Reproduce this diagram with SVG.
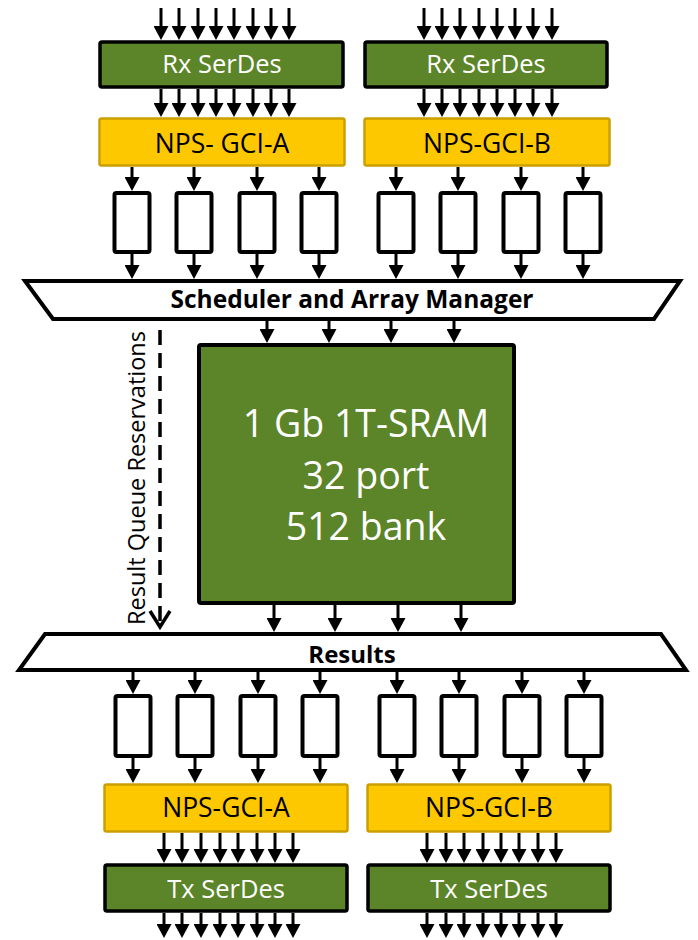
<svg xmlns="http://www.w3.org/2000/svg" width="698" height="940" viewBox="0 0 698 940">
<style>
.serdes{fill:#5b8528;stroke:#000;stroke-width:3.5}
.nps{fill:#fdc800;stroke:#c9a000;stroke-width:2.5}
.q{fill:#fff;stroke:#000;stroke-width:4}
.trap{fill:#fff;stroke:#000;stroke-width:4;stroke-linejoin:miter}
.sram{fill:#5b8528;stroke:#000;stroke-width:4}
.wt{font-family:"Open Sans","Noto Sans",sans-serif;fill:#fff;text-anchor:middle}
.bt{font-family:"Open Sans","Noto Sans",sans-serif;fill:#000;text-anchor:middle}
.bold{font-family:"Open Sans","Noto Sans",sans-serif;font-weight:bold;fill:#000;text-anchor:middle}
.a line{stroke:#000;stroke-width:3;marker-end:url(#ah)}
.dash{stroke:#000;stroke-width:3.5;fill:none;stroke-dasharray:15 8}
</style>
<defs>
<marker id="ah" viewBox="0 0 14 15" refX="7" refY="7.5" markerWidth="14" markerHeight="15" markerUnits="userSpaceOnUse" orient="auto">
<path d="M0,0 L14,7.5 L0,15 z" fill="#000"/>
</marker>
</defs>

<g id="connectors" class="a">
<line x1="161" y1="8" x2="161" y2="33"/><line x1="179" y1="8" x2="179" y2="33"/><line x1="198" y1="8" x2="198" y2="33"/><line x1="216" y1="8" x2="216" y2="33"/><line x1="234" y1="8" x2="234" y2="33"/><line x1="253" y1="8" x2="253" y2="33"/><line x1="271" y1="8" x2="271" y2="33"/><line x1="289" y1="8" x2="289" y2="33"/>
<line x1="424" y1="8" x2="424" y2="33"/><line x1="442" y1="8" x2="442" y2="33"/><line x1="460" y1="8" x2="460" y2="33"/><line x1="479" y1="8" x2="479" y2="33"/><line x1="497" y1="8" x2="497" y2="33"/><line x1="515" y1="8" x2="515" y2="33"/><line x1="533" y1="8" x2="533" y2="33"/><line x1="552" y1="8" x2="552" y2="33"/>

<line x1="161" y1="89" x2="161" y2="110"/><line x1="179" y1="89" x2="179" y2="110"/><line x1="198" y1="89" x2="198" y2="110"/><line x1="216" y1="89" x2="216" y2="110"/><line x1="234" y1="89" x2="234" y2="110"/><line x1="253" y1="89" x2="253" y2="110"/><line x1="271" y1="89" x2="271" y2="110"/><line x1="289" y1="89" x2="289" y2="110"/>
<line x1="424" y1="89" x2="424" y2="110"/><line x1="442" y1="89" x2="442" y2="110"/><line x1="460" y1="89" x2="460" y2="110"/><line x1="479" y1="89" x2="479" y2="110"/><line x1="497" y1="89" x2="497" y2="110"/><line x1="515" y1="89" x2="515" y2="110"/><line x1="533" y1="89" x2="533" y2="110"/><line x1="552" y1="89" x2="552" y2="110"/>

<line x1="132" y1="167" x2="132" y2="184"/><line x1="194" y1="167" x2="194" y2="184"/><line x1="257" y1="167" x2="257" y2="184"/><line x1="319" y1="167" x2="319" y2="184"/>
<line x1="396" y1="167" x2="396" y2="184"/><line x1="458" y1="167" x2="458" y2="184"/><line x1="521" y1="167" x2="521" y2="184"/><line x1="583" y1="167" x2="583" y2="184"/>

<line x1="132" y1="254" x2="132" y2="272"/><line x1="194" y1="254" x2="194" y2="272"/><line x1="257" y1="254" x2="257" y2="272"/><line x1="319" y1="254" x2="319" y2="272"/>
<line x1="396" y1="254" x2="396" y2="272"/><line x1="458" y1="254" x2="458" y2="272"/><line x1="521" y1="254" x2="521" y2="272"/><line x1="583" y1="254" x2="583" y2="272"/>

<line x1="267" y1="321" x2="267" y2="336"/><line x1="329" y1="321" x2="329" y2="336"/><line x1="391" y1="321" x2="391" y2="336"/><line x1="454" y1="321" x2="454" y2="336"/>

<line x1="274" y1="605" x2="274" y2="625"/><line x1="335" y1="605" x2="335" y2="625"/><line x1="398" y1="605" x2="398" y2="625"/><line x1="461" y1="605" x2="461" y2="625"/>

<line x1="133" y1="672" x2="133" y2="687"/><line x1="195" y1="672" x2="195" y2="687"/><line x1="258" y1="672" x2="258" y2="687"/><line x1="320" y1="672" x2="320" y2="687"/>
<line x1="397" y1="672" x2="397" y2="687"/><line x1="459" y1="672" x2="459" y2="687"/><line x1="522" y1="672" x2="522" y2="687"/><line x1="584" y1="672" x2="584" y2="687"/>

<line x1="133" y1="758" x2="133" y2="776"/><line x1="195" y1="758" x2="195" y2="776"/><line x1="258" y1="758" x2="258" y2="776"/><line x1="320" y1="758" x2="320" y2="776"/>
<line x1="397" y1="758" x2="397" y2="776"/><line x1="459" y1="758" x2="459" y2="776"/><line x1="522" y1="758" x2="522" y2="776"/><line x1="584" y1="758" x2="584" y2="776"/>

<line x1="164" y1="833" x2="164" y2="856"/><line x1="182" y1="833" x2="182" y2="856"/><line x1="201" y1="833" x2="201" y2="856"/><line x1="220" y1="833" x2="220" y2="856"/><line x1="238" y1="833" x2="238" y2="856"/><line x1="257" y1="833" x2="257" y2="856"/><line x1="275" y1="833" x2="275" y2="856"/><line x1="293" y1="833" x2="293" y2="856"/>
<line x1="427" y1="833" x2="427" y2="856"/><line x1="446" y1="833" x2="446" y2="856"/><line x1="464" y1="833" x2="464" y2="856"/><line x1="483" y1="833" x2="483" y2="856"/><line x1="501" y1="833" x2="501" y2="856"/><line x1="519" y1="833" x2="519" y2="856"/><line x1="538" y1="833" x2="538" y2="856"/><line x1="556" y1="833" x2="556" y2="856"/>

<line x1="164" y1="913" x2="164" y2="931"/><line x1="182" y1="913" x2="182" y2="931"/><line x1="201" y1="913" x2="201" y2="931"/><line x1="220" y1="913" x2="220" y2="931"/><line x1="238" y1="913" x2="238" y2="931"/><line x1="257" y1="913" x2="257" y2="931"/><line x1="275" y1="913" x2="275" y2="931"/><line x1="293" y1="913" x2="293" y2="931"/>
<line x1="427" y1="913" x2="427" y2="931"/><line x1="446" y1="913" x2="446" y2="931"/><line x1="464" y1="913" x2="464" y2="931"/><line x1="483" y1="913" x2="483" y2="931"/><line x1="501" y1="913" x2="501" y2="931"/><line x1="519" y1="913" x2="519" y2="931"/><line x1="538" y1="913" x2="538" y2="931"/><line x1="556" y1="913" x2="556" y2="931"/>

<path class="dash" d="M160,330V626"/>
<path d="M150,611L160,627L170,611" fill="none" stroke="#000" stroke-width="3.5"/>
</g>

<g id="rx-serdes-a"><rect class="serdes" x="100" y="42" width="243" height="45" rx="2"/><text class="wt" x="222" y="73" font-size="25.5">Rx SerDes</text></g>
<g id="rx-serdes-b"><rect class="serdes" x="365" y="42" width="242" height="45" rx="2"/><text class="wt" x="486" y="73" font-size="25.5">Rx SerDes</text></g>
<g id="nps-gci-a-in"><rect class="nps" x="99.5" y="118.5" width="245" height="47" rx="2"/><text class="bt" x="222" y="153" font-size="26.5">NPS- GCI-A</text></g>
<g id="nps-gci-b-in"><rect class="nps" x="364.5" y="118.5" width="245" height="47" rx="2"/><text class="bt" x="487" y="153" font-size="26.5">NPS-GCI-B</text></g>

<g id="in-queues">
<rect class="q" x="114.5" y="193" width="35" height="59" rx="2"/>
<rect class="q" x="176.5" y="193" width="35" height="59" rx="2"/>
<rect class="q" x="239.5" y="193" width="35" height="59" rx="2"/>
<rect class="q" x="301.5" y="193" width="35" height="59" rx="2"/>
<rect class="q" x="378.5" y="193" width="35" height="59" rx="2"/>
<rect class="q" x="440.5" y="193" width="35" height="59" rx="2"/>
<rect class="q" x="503.5" y="193" width="35" height="59" rx="2"/>
<rect class="q" x="565.5" y="193" width="35" height="59" rx="2"/>
</g>

<g id="scheduler"><polygon class="trap" points="25,281 680,281 654,319 53,319"/><text class="bold" x="352" y="308" font-size="24.5">Scheduler and Array Manager</text></g>

<g id="sram"><rect class="sram" x="199" y="345" width="315" height="258" rx="2"/>
<text class="wt" x="366" y="437" font-size="37.5">1 Gb 1T-SRAM</text>
<text class="wt" x="366" y="489" font-size="37.5">32 port</text>
<text class="wt" x="366" y="540" font-size="37.5">512 bank</text></g>

<g id="rqr-label"><text class="bt" transform="translate(145,478) rotate(-90)" font-size="23.5">Result Queue Reservations</text></g>

<g id="results"><polygon class="trap" points="45,634 661,634 686,670 19,670"/><text class="bold" x="352" y="663" font-size="24">Results</text></g>

<g id="out-queues">
<rect class="q" x="115.5" y="696" width="35" height="60" rx="2"/>
<rect class="q" x="177.5" y="696" width="35" height="60" rx="2"/>
<rect class="q" x="240.5" y="696" width="35" height="60" rx="2"/>
<rect class="q" x="302.5" y="696" width="35" height="60" rx="2"/>
<rect class="q" x="379.5" y="696" width="35" height="60" rx="2"/>
<rect class="q" x="441.5" y="696" width="35" height="60" rx="2"/>
<rect class="q" x="504.5" y="696" width="35" height="60" rx="2"/>
<rect class="q" x="566.5" y="696" width="35" height="60" rx="2"/>
</g>

<g id="nps-gci-a-out"><rect class="nps" x="104.5" y="784.5" width="243" height="47" rx="2"/><text class="bt" x="226" y="817" font-size="26.5">NPS-GCI-A</text></g>
<g id="nps-gci-b-out"><rect class="nps" x="367.5" y="784.5" width="243" height="47" rx="2"/><text class="bt" x="489" y="817" font-size="26.5">NPS-GCI-B</text></g>
<g id="tx-serdes-a"><rect class="serdes" x="105" y="865" width="242" height="46" rx="2"/><text class="wt" x="226" y="898" font-size="25.5">Tx SerDes</text></g>
<g id="tx-serdes-b"><rect class="serdes" x="368" y="865" width="242" height="46" rx="2"/><text class="wt" x="489" y="898" font-size="25.5">Tx SerDes</text></g>
</svg>
